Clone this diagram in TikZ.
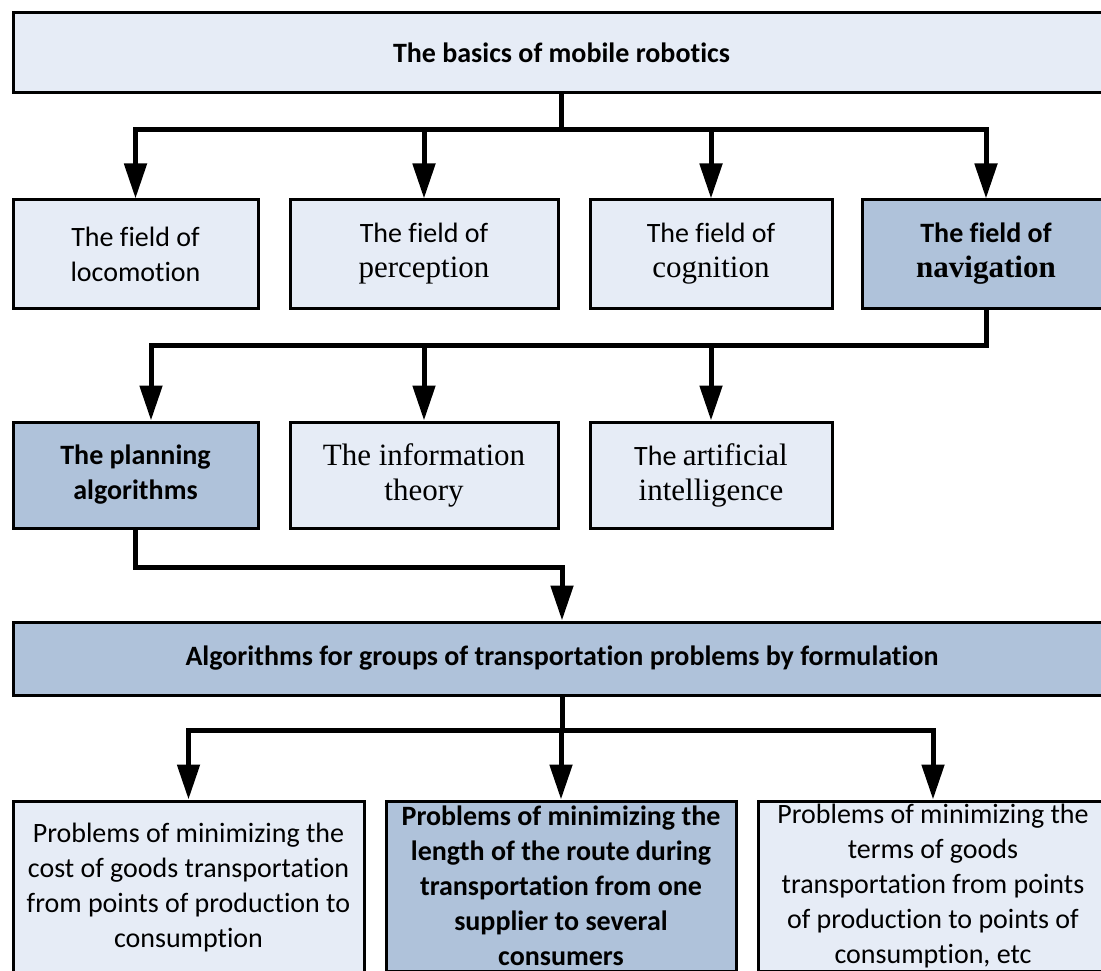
\documentclass[tikz,border=0pt]{standalone}
\usepackage{fontspec}
\setmainfont{Carlito}[Ligatures=NoCommon]
\newfontfamily\tms{Liberation Serif}
\usetikzlibrary{arrows.meta}
\definecolor{lightbox}{HTML}{E6ECF6}
\definecolor{darkbox}{HTML}{AFC2DA}
\newcommand\serif[1]{{\tms\fontsize{31}{35}\selectfont #1}}
\begin{document}
\begin{tikzpicture}[x=1pt,y=-1pt,
 box/.style={draw=black, line width=3pt, fill=lightbox, align=center, inner sep=0pt, font=\fontsize{28}{35}\selectfont},
 dbox/.style={box, fill=darkbox},
 bbox/.style={dbox, font=\bfseries\fontsize{28}{35}\selectfont},
 lowbox/.style={font=\fontsize{28}{34}\selectfont},
 conn/.style={line width=5pt, line cap=rect},
 arr/.style={line width=5pt, -{Triangle[length=35pt,width=22pt]}},
]
\useasboundingbox (0,0) rectangle (1101,971);
\clip (0,0) rectangle (1101,971);
% top
\node[box, font=\bfseries\fontsize{28}{35}\selectfont, minimum width=1097pt, minimum height=80pt] (top) at (561.5,53) {The basics of mobile robotics};
% row 2
\node[box, minimum width=245pt, minimum height=108pt] (f1) at (135.5,254) {The field of\\locomotion};
\node[box, minimum width=268pt, minimum height=108pt] (f2) at (424,254) {The field of\\\serif{perception}};
\node[box, minimum width=242pt, minimum height=108pt] (f3) at (711,254) {The field of\\\serif{cognition}};
\node[bbox, minimum width=248pt, minimum height=108pt] (f4) at (986,254) {The field of\\\serif{navigation}};
% row 3
\node[bbox, minimum width=245pt, minimum height=106pt] (p1) at (135.5,475) {The planning\\algorithms};
\node[box, minimum width=268pt, minimum height=106pt] (p2) at (424,475) {\serif{The information}\\\serif{theory}};
\node[box, minimum width=242pt, minimum height=106pt] (p3) at (711,475) {The \serif{artificial}\\\serif{intelligence}};
% wide
\node[bbox, minimum width=1098pt, minimum height=73pt] (alg) at (562,658.5) {Algorithms for groups of transportation problems by formulation};
% bottom
\node[box, minimum width=351pt, minimum height=174pt] (b1) at (188.5,888) {\fontsize{28}{34}\selectfont Problems of minimizing the\\cost of goods transportation\\from points of production to\\consumption};
\node[bbox, minimum width=350pt, minimum height=170pt] (b2) at (561,886) {\fontsize{28}{34}\selectfont Problems of minimizing the\\length of the route during\\transportation from one\\supplier to several\\consumers};
\node[box, minimum width=350pt, minimum height=170pt] (b3) at (933,886) {\fontsize{28}{34}\selectfont Problems of minimizing the\\terms of goods\\transportation from points\\of production to points of\\consumption, etc};
% connectors top -> row 2
\coordinate (j1) at (561,130);
\draw[conn] (top.south -| j1) -- (j1);
\draw[conn] (f1.north |- j1) -- (f4.north |- j1);
\draw[arr] (f1.north |- j1) -- (f1.north);
\draw[arr] (f2.north |- j1) -- (f2.north);
\draw[arr] (f3.north |- j1) -- (f3.north);
\draw[arr] (f4.north |- j1) -- (f4.north);
% f4 -> row 3
\coordinate (j2) at (986,345);
\coordinate (k1) at (151,345);
\draw[conn] (f4.south) -- (j2);
\draw[conn] (k1) -- (j2);
\draw[arr] (k1) -- (k1 |- p1.north);
\draw[arr] (p2.north |- j2) -- (p2.north);
\draw[arr] (p3.north |- j2) -- (p3.north);
% p1 -> alg
\coordinate (j3) at (135.5,567);
\draw[arr] (p1.south) -- (j3) -- (j3 -| alg.north) -- (alg.north);
% alg -> bottom
\coordinate (j4) at (562,730);
\draw[conn] (alg.south) -- (j4);
\draw[conn] (b1.north |- j4) -- (b3.north |- j4);
\draw[arr] (b1.north |- j4) -- (b1.north);
\draw[arr] (b2.north |- j4) -- (b2.north);
\draw[arr] (b3.north |- j4) -- (b3.north);
\end{tikzpicture}
\end{document}
